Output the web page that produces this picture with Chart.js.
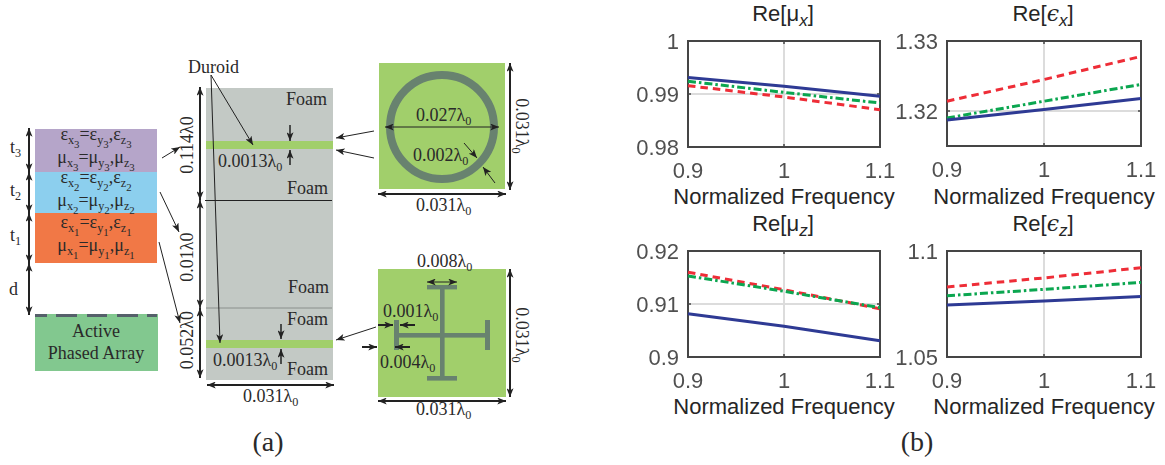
<!DOCTYPE html>
<html><head><meta charset="utf-8">
<style>
html,body{margin:0;padding:0;background:#fff;width:1165px;height:465px;overflow:hidden}
canvas{position:absolute}
svg{position:absolute;left:0;top:0}
</style>
<script src="https://cdn.jsdelivr.net/npm/chart.js@4/dist/chart.umd.min.js"></script>
</head><body>
<svg id="dia" width="1165" height="465" viewBox="0 0 1165 465" xmlns="http://www.w3.org/2000/svg"></svg>
<script>
// ---- chart data ----
const freq = [0.9, 1, 1.1];
const xTicks = [0.9, 1, 1.1];
const xAxisLabel = "Normalized Frequency";

const muxBlue  = [0.9931, 0.99145, 0.98956];
const muxGreen = [0.9924, 0.99031, 0.9883];
const muxRed   = [0.99157, 0.98943, 0.98704];
const muxTicks = [0.98, 0.99, 1];

const epxBlue  = [1.3187, 1.3202, 1.3218];
const epxGreen = [1.3190, 1.3214, 1.3238];
const epxRed   = [1.3214, 1.3245, 1.3278];
const epxTicks = [1.32, 1.33];

const muzBlue  = [0.90818, 0.90579, 0.90308];
const muzGreen = [0.9153, 0.9124, 0.9093];
const muzRed   = [0.9160, 0.9127, 0.9091];
const muzTicks = [0.9, 0.91, 0.92];

const epzBlue  = [1.0745, 1.0764, 1.0785];
const epzGreen = [1.0789, 1.0819, 1.0852];
const epzRed   = [1.0830, 1.0873, 1.0921];
const epzTicks = [1.05, 1.1];

const C = {blue:'#2e3a94', green:'#0ba650', red:'#ee2d37', frame:'#454545', grid:'#dcdcdc', tick:'#505050', label:'#262626'};

const framePlugin = {
  id:'frame',
  beforeDraw(ch){
    // tick labels sit slightly below their tick in the reference
    ch.scales.y.getLabelItems(ch.chartArea).forEach(i=>{ if(!i._moved){ i.options.translation[1]+=2; i._moved=true; } });
  },
  beforeDatasetsDraw(ch){
    const a = ch.chartArea, c = ch.ctx;
    c.save();
    c.strokeStyle = C.frame; c.lineWidth = 2;
    c.strokeRect(a.left, a.top, a.right-a.left, a.bottom-a.top);
    c.lineWidth = 1.5; c.beginPath();
    ch.scales.x.ticks.forEach(t=>{const p=ch.scales.x.getPixelForValue(t.value);
      c.moveTo(p,a.bottom); c.lineTo(p,a.bottom-3); c.moveTo(p,a.top); c.lineTo(p,a.top+3);});
    ch.scales.y.ticks.forEach(t=>{const p=ch.scales.y.getPixelForValue(t.value);
      c.moveTo(a.left,p); c.lineTo(a.left+3,p); c.moveTo(a.right,p); c.lineTo(a.right-3,p);});
    c.stroke(); c.restore();
  }
};

function makeChart(box, yMin, yMax, yTicks, blue, green, red){
  const cv = document.createElement('canvas');
  const L=70, T=12, R=24, B=65;
  const w = box.w+L+R, h = box.h+T+B;
  cv.width=w; cv.height=h;
  cv.style.left=(box.x-L)+'px'; cv.style.top=(box.y-T)+'px';
  cv.style.width=w+'px'; cv.style.height=h+'px';
  document.body.appendChild(cv);
  const ds=(data,color,dash)=>({data:freq.map((f,i)=>({x:f,y:data[i]})),borderColor:color,borderWidth:3,borderDash:dash,pointRadius:0,tension:0,fill:false,clip:false});
  const zeroV=s=>{s.paddingTop=0;s.paddingBottom=0;};
  const zeroH=s=>{s.paddingLeft=0;s.paddingRight=0;};
  new Chart(cv,{
    type:'line',
    data:{datasets:[ds(blue,C.blue,[]),ds(green,C.green,[8,3,2.5,3]),ds(red,C.red,[7.5,5])]},
    plugins:[framePlugin],
    options:{
      responsive:false,animation:false,devicePixelRatio:1,
      layout:{autoPadding:false,padding:{left:0,top:T,right:R,bottom:0}},
      plugins:{legend:{display:false},tooltip:{enabled:false},title:{display:false}},
      scales:{
        x:{type:'linear',min:0.9,max:1.1,
          afterFit:s=>{s.height=B;zeroH(s);zeroV(s);},
          afterBuildTicks:s=>{s.ticks=xTicks.map(v=>({value:v}));},
          grid:{color:C.grid,lineWidth:2,drawTicks:false},border:{display:false},
          ticks:{color:C.tick,font:{family:'"Liberation Sans"',size:22},padding:12,maxRotation:0,autoSkip:false,callback:v=>String(v)}
        },
        y:{type:'linear',min:yMin,max:yMax,
          afterFit:s=>{s.width=L;zeroV(s);zeroH(s);},
          afterBuildTicks:s=>{s.ticks=yTicks.map(v=>({value:v}));},
          grid:{color:C.grid,lineWidth:2,drawTicks:false},border:{display:false},
          ticks:{color:C.tick,font:{family:'"Liberation Sans"',size:22},padding:9,autoSkip:false,callback:v=>String(v)}
        }
      }
    }
  });
}
makeChart({x:688,y:41,w:192,h:106},0.98,1,muxTicks,muxBlue,muxGreen,muxRed);
makeChart({x:947,y:41,w:194,h:105},1.315,1.33,epxTicks,epxBlue,epxGreen,epxRed);
makeChart({x:688,y:251,w:192,h:106},0.9,0.92,muzTicks,muzBlue,muzGreen,muzRed);
makeChart({x:947,y:251,w:194,h:106},1.05,1.1,epzTicks,epzBlue,epzGreen,epzRed);

// ---- schematic (a) and text ----
const SERIF='"Liberation Serif"', SANS='"Liberation Sans"';
let s='';
s+=`<defs>
<marker id="ah" viewBox="0 0 10 8" refX="10" refY="4" markerWidth="9" markerHeight="7" markerUnits="userSpaceOnUse" orient="auto"><path d="M0 0L10 4L0 8L2.5 4Z" fill="#222"/></marker>
<marker id="at" viewBox="0 0 10 8" refX="0" refY="4" markerWidth="9" markerHeight="7" markerUnits="userSpaceOnUse" orient="auto"><path d="M10 0L0 4L10 8L7.5 4Z" fill="#222"/></marker>
</defs>`;
const esc=x=>x.replace(/&/g,'&amp;').replace(/</g,'&lt;');
function rich(str,size){
  // {1a} = subscript, {2a} = sub-subscript
  let out='',cur=0;const re=/\{(\d)([^}]*)\}|([^{]+)/g;let m;
  while((m=re.exec(str))){
    if(m[3]!==undefined){out+=`<tspan dy="${-cur}" font-size="${size}">${esc(m[3])}</tspan>`;cur=0;}
    else{const lv=+m[1];const target=lv===1?size*0.24:size*0.42;const fs=lv===1?size*0.68:size*0.6;
      out+=`<tspan dy="${(target-cur).toFixed(2)}" font-size="${fs.toFixed(1)}">${esc(m[2])}</tspan>`;cur=target;}
  }
  return out;
}
function T(x,y,str,opt={}){
  const size=opt.size||18,anchor=opt.anchor||'start',fam=opt.fam||SERIF,col=opt.col||'#2a2a2a';
  const tr=opt.rot?` transform="rotate(${opt.rot} ${x} ${y})"`:'';
  s+=`<text x="${x}" y="${y}" text-anchor="${anchor}" font-family='${fam}' fill="${col}"${tr}>${rich(str,size)}</text>`;
}
const R=(x,y,w,h,f)=>{s+=`<rect x="${x}" y="${y}" width="${w}" height="${h}" fill="${f}"/>`;};
function A(x1,y1,x2,y2,w=1,both=false){
  s+=`<line x1="${x1}" y1="${y1}" x2="${x2}" y2="${y2}" stroke="#222" stroke-width="${w}" marker-end="url(#ah)"${both?' marker-start="url(#at)"':''}/>`;
}
const GREEN='#a1cf6b',DARK='#68826f';
// layers
R(35,129,122,43,'#b5a5c9');R(35,172,122,41,'#8ccfee');R(35,213,122,50,'#f17846');R(35,314,123,57,'#82c88f');
[[35,47],[56,77],[87,107],[117,138],[147,157]].forEach(d=>R(d[0],314,d[1]-d[0],3,'#55606a'));
const lay=[[140,163,3],[183,206,2],[228,251,1]];
lay.forEach(l=>{
  T(96,l[0],`ε{1x}{2${l[2]}}=ε{1y}{2${l[2]}},ε{1z}{2${l[2]}}`,{size:18,anchor:'middle'});
  T(96,l[1],`μ{1x}{2${l[2]}}=μ{1y}{2${l[2]}},μ{1z}{2${l[2]}}`,{size:18,anchor:'middle'});
});
T(96,337,'Active',{anchor:'middle'});T(96,359,'Phased Array',{anchor:'middle'});
// left dims
A(29,172,29,128,2,false);A(29,128,29,172,2);A(29,213,29,172,2);A(29,172,29,213,2);A(29,263,29,213,2);A(29,213,29,263,2);A(29,315,29,263,2);A(29,263,29,315,2);
T(10,153,'t{13}');T(10,196,'t{12}');T(10,241,'t{11}');T(9,295,'d');
// foam column
R(206,88,127,292,'#c3c9c5');R(206,141,127,8,GREEN);R(206,340,127,8,GREEN);
s+=`<line x1="205" y1="200.5" x2="332" y2="200.5" stroke="#222" stroke-width="1"/><line x1="206" y1="308" x2="332" y2="308" stroke="#8a8f8c" stroke-width="1"/>`;
T(286,105,'Foam');T(287,194,'Foam');T(288,293,'Foam');T(287,325,'Foam');T(287,375,'Foam');
T(188,73,'Duroid');
A(211,75,253,145);A(211,75,220,343);
A(162,158,180,147);A(160,192,179,232);A(159,242,180,323);
// column dims
A(200,200,200,87,2,false);A(200,87,200,200,2);A(200,308,200,200,1.2);A(200,200,200,308,1.2);A(200,378,200,308,2);A(200,308,200,378,2);
T(193,145,'0.114λ0',{anchor:'middle',rot:-90});T(193,257,'0.01λ0',{anchor:'middle',rot:-90});T(193,340,'0.052λ0',{anchor:'middle',rot:-90});
A(290,125,290,141,1.5);A(290,165,290,150,1.5);A(281,324,281,339,1.5);A(281,364,281,349,1.5);
T(218,167,'0.0013λ{10}');T(213,366,'0.0013λ{10}');
A(207,385,334,385,2,true);T(243,402,'0.031λ{10}');
// top square
R(379,63,126,126,GREEN);
s+=`<circle cx="442" cy="127" r="52" fill="none" stroke="${DARK}" stroke-width="8"/>`;
A(385,127,499,127,1,true);T(416,121,'0.027λ{10}');T(413,161,'0.002λ{10}');
A(464,143,477,158);A(495,183,483,167);
A(510,63,510,190,2,true);T(516,126,'0.031λ{10}',{anchor:'middle',rot:90});
A(378,194,506,194,2,true);T(416,211,'0.031λ{10}');
A(374,131,336,138);A(374,158,336,150);A(376,327,336,340);
// bottom square
R(378,269,128,128,GREEN);
R(440,285,4.6,93,DARK);R(427,285,30,4.4,DARK);R(427,376,30,4.6,DARK);R(395,333,95,4.6,DARK);R(394,320,5,30,DARK);R(485,320,5,30,DARK);
A(427,282,457,282,1,true);T(417,267,'0.008λ{10}');
T(383,317,'0.001λ{10}');A(378,325,393,325,2);A(415,325,400,325,2);
T(380,368,'0.004λ{10}');A(362,347,377,347,2);A(410,347,395,347,2);
A(510,269,510,397,2,true);T(516,335,'0.031λ{10}',{anchor:'middle',rot:90});
A(378,401,506,401,2,true);T(416,415,'0.031λ{10}');
T(268,451,'(a)',{size:28,anchor:'middle'});T(917,451,'(b)',{size:28,anchor:'middle'});
// subplot titles and x-axis labels
function title(cx,cy,sym,sub,italicSym){
  s+=`<text x="${cx}" y="${cy}" text-anchor="middle" font-family='${SANS}' font-size="22" fill="${C.label}">Re[<tspan font-style="${italicSym?'italic':'normal'}" font-family='${italicSym?'"DejaVu Serif"':SANS}'>${sym}</tspan><tspan dy="5" font-size="17" font-style="italic">${sub}</tspan><tspan dy="-5">]</tspan></text>`;
}
title(783,21,'μ','x',false);title(1043,21,'ϵ','x',true);title(783,231,'μ','z',false);title(1043,231,'ϵ','z',true);
[[784,204],[1044,204],[784,414],[1044,414]].forEach(p=>{
  s+=`<text x="${p[0]}" y="${p[1]}" text-anchor="middle" font-family='${SANS}' font-size="22" fill="${C.label}">${xAxisLabel}</text>`;
});
document.getElementById('dia').innerHTML=s;
</script>
</body></html>
